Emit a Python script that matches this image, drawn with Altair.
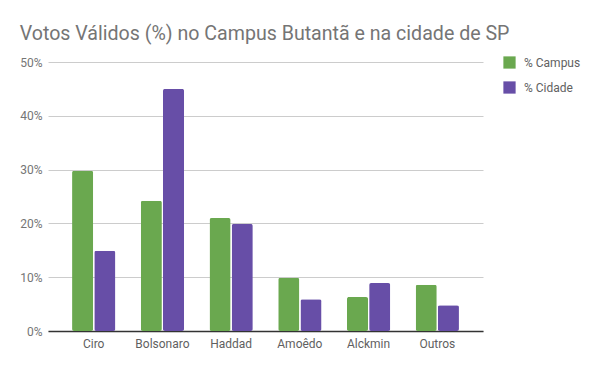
import altair as alt
import pandas as pd

candidatos = ["Ciro", "Bolsonaro", "Haddad", "Amoêdo", "Alckmin", "Outros"]
campus = [29.8, 24.2, 21.0, 9.9, 6.3, 8.6]
cidade = [14.9, 45.0, 19.9, 5.9, 8.9, 4.8]
series = ["% Campus", "% Cidade"]
cores = ["#6aa84f", "#674ea7"]

rows = []
for i, c in enumerate(candidatos):
    rows.append({"Candidato": c, "Série": series[0], "Valor": campus[i] / 100})
    rows.append({"Candidato": c, "Série": series[1], "Valor": cidade[i] / 100})
df = pd.DataFrame(rows)

chart = alt.Chart(df).mark_bar(cornerRadius=2).encode(
    x=alt.X("Candidato:N", sort=candidatos, title=None,
            scale=alt.Scale(paddingInner=0.37, paddingOuter=0.35),
            axis=alt.Axis(labelAngle=0, ticks=False, labelPadding=7,
                          labelFontSize=12, labelColor="#5f5f5f", labelFont="Roboto",
                          domainColor="#333333", domainWidth=1.5, grid=False)),
    xOffset=alt.XOffset("Série:N", sort=series, scale=alt.Scale(paddingInner=0.05)),
    y=alt.Y("Valor:Q", title=None,
            scale=alt.Scale(domain=[0, 0.5], nice=False),
            axis=alt.Axis(format=".0%", values=[0, 0.1, 0.2, 0.3, 0.4, 0.5],
                          ticks=False, domain=False, labelPadding=6,
                          labelFontSize=12, labelColor="#757575", labelFont="Roboto",
                          gridColor="#cccccc")),
    color=alt.Color("Série:N", sort=series,
                    scale=alt.Scale(domain=series, range=cores),
                    legend=alt.Legend(title=None, orient="none", legendX=455, legendY=-6,
                                      symbolType="square", symbolSize=150,
                                      symbolStrokeWidth=0, rowPadding=12,
                                      labelFontSize=12, labelColor="#616161",
                                      labelFont="Roboto", labelOffset=8)),
).properties(
    width=435, height=269,
    title=alt.TitleParams("Votos Válidos (%) no Campus Butantã e na cidade de SP",
                          anchor="start", dx=0, offset=11, fontSize=19.6,
                          font="Roboto", fontWeight="normal", color="#757575"),
    autosize=alt.AutoSizeParams(type="none"),
    padding={"left": 40, "top": 54, "right": 100, "bottom": 30},
).configure_view(stroke=None)

chart.save("out.html", embed_options={"renderer": "svg", "actions": False})
